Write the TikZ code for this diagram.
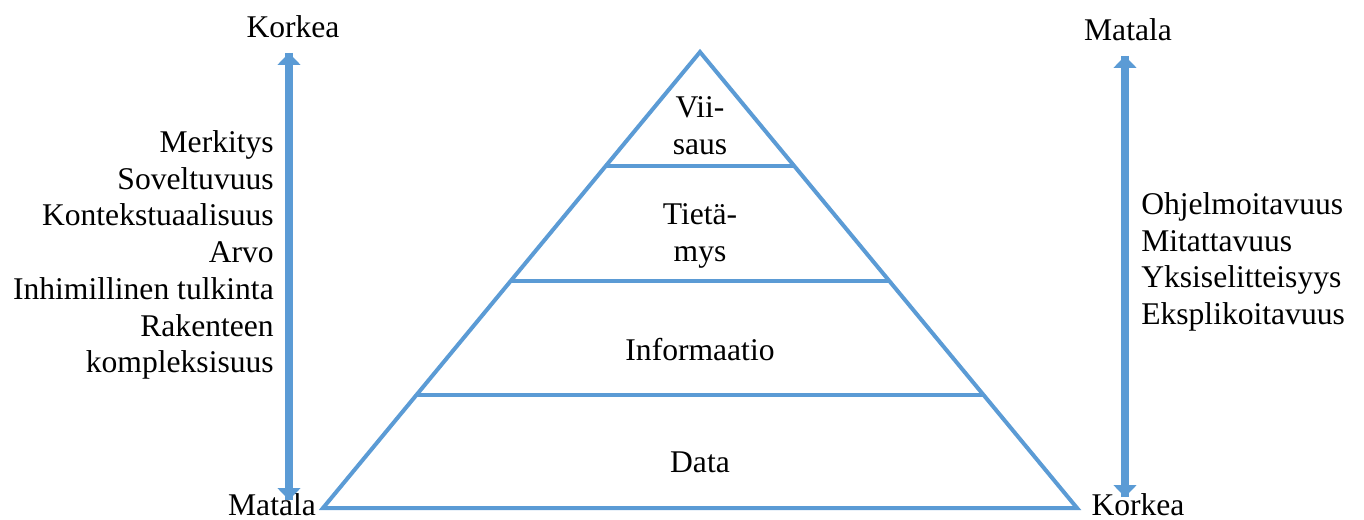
\documentclass[tikz,border=0pt]{standalone}
\usepackage{fontspec}
\newfontfamily\roomalainen{Liberation Serif}
\usetikzlibrary{arrows.meta}
\definecolor{sininen}{HTML}{5B9BD5}
\begin{document}
\begin{tikzpicture}[>={Triangle[width=17pt,length=9pt]},x=0.75pt,y=-0.75pt,
	font=\fontsize{23.7}{27.6}\selectfont,
	taso/.style={draw=sininen,line width=3pt,line join=miter},
	nuoli/.style={->,draw=sininen,fill=sininen,line width=6.5pt},
	teksti/.style={inner sep=0pt,align=center,execute at begin node=\roomalainen}]
	\useasboundingbox (0,0) rectangle (1364,520);
	\def\h{456} % pyramidin korkeus
	\def\w{377} % puolet pohjasta
	% pyramidi
	\coordinate (huippu) at (700,52);
	\coordinate (vasen) at (323,508);
	\coordinate (oikea) at (1077,508);
	\draw[taso] (huippu) -- (vasen) -- (oikea) -- cycle;
	\foreach \y in {166,281,395}
	\draw[taso] ({700-\w/\h*(\y-52)},\y) -- ({700+\w/\h*(\y-52)},\y);
	\node[teksti] (viisaus) at (700,126) {Vii-\\saus};
	\node[teksti] (tietamys) at (700,236) {Tietä-\\mys};
	\node[teksti] (informaatio) at (700,350) {Informaatio};
	\node[teksti] (data) at (700,462) {Data};
	% vasen nuoli
	\node[teksti] (vyla) at (293,27) {Korkea};
	\node[teksti] (vala) at (272,505) {Matala};
	\coordinate (va) at (289,500);
	\coordinate (vy) at (289,53);
	\draw[nuoli] (va) -- (vy);
	\draw[nuoli] (vy) -- (va);
	\node[teksti,anchor=east,align=right] (ominaisuudet) at (274,255)
	{Merkitys\\Soveltuvuus\\Kontekstuaalisuus\\Arvo\\Inhimillinen tulkinta\\Rakenteen\\kompleksisuus};
	% oikea nuoli
	\node[teksti] (oyla) at (1128,30) {Matala};
	\node[teksti] (oala) at (1138,505) {Korkea};
	\coordinate (oa) at (1125,497);
	\coordinate (oy) at (1125,56);
	\draw[nuoli] (oa) -- (oy);
	\draw[nuoli] (oy) -- (oa);
	\node[teksti,anchor=west,align=left] (mitat) at (1141,262)
	{Ohjelmoitavuus\\Mitattavuus\\Yksiselitteisyys\\Eksplikoitavuus};
\end{tikzpicture}
\end{document}
